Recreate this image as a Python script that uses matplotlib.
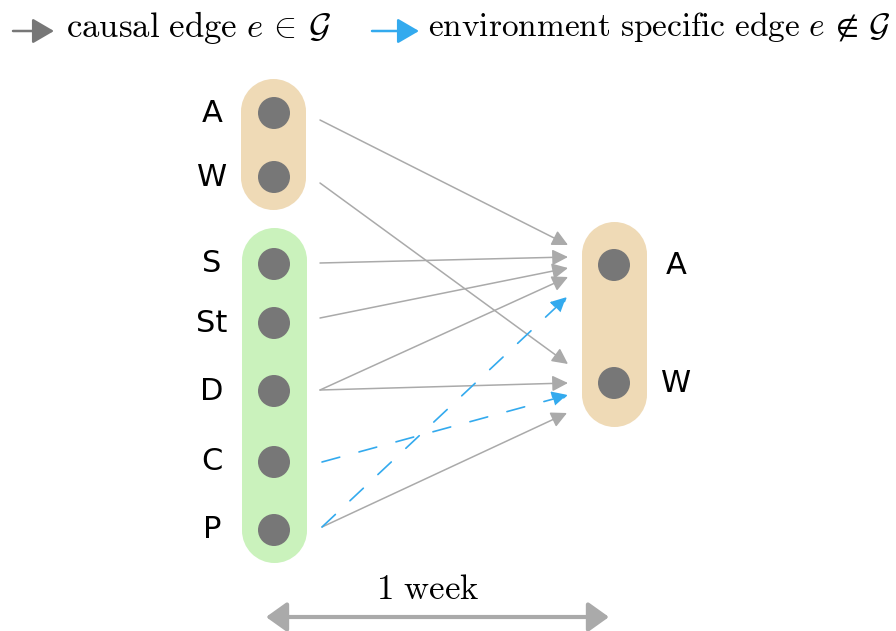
import matplotlib
matplotlib.use("Agg")
import matplotlib.pyplot as plt
from matplotlib.patches import Rectangle, FancyArrowPatch, Circle

plt.rcParams['mathtext.fontset'] = 'cm'

# ---- data ----
lag_group = ["A", "W"]
env_group = ["S", "St", "D", "C", "P"]
target_group = ["A", "W"]
causal_edges = [("A", "A"), ("W", "W"), ("S", "A"), ("St", "A"), ("D", "A"), ("D", "W"), ("P", "W")]
env_edges = [("C", "W"), ("P", "A")]
legend_labels = [r"$\mathrm{causal\ edge}\ e\, \in\, \mathcal{G}$",
                 r"$\mathrm{environment\ specific\ edge}\ e\, \notin\, \mathcal{G}$"]
window_label = r"$\mathrm{1\ week}$"

# ---- layout (pixel coordinates) ----
left_x, right_x = 274, 614
left_y = {"A": 113, "W": 177, "S": 264, "St": 323, "D": 391, "C": 462, "P": 530}
right_y = {"A": 265, "W": 383}
src_pt = {"A": (320, 120), "W": (320, 183), "S": (320, 263), "St": (320, 318),
          "D": (320, 390), "C": (322, 462), "P": (322, 527)}
tgt_pt = {("A", "A"): (568, 245), ("W", "W"): (568, 364), ("S", "A"): (568, 257),
          ("St", "A"): (568, 268), ("D", "A"): (568, 277), ("D", "W"): (568, 383),
          ("P", "W"): (567, 413), ("C", "W"): (568, 395), ("P", "A"): (567, 297)}

ORANGE = "#efdab6"
GREEN = "#caf2bc"
NODE = "#777777"
GRAY = "#aaaaaa"
BLUE = "#33aaee"

fig = plt.figure(figsize=(8.96, 6.31), dpi=100)
ax = fig.add_axes([0, 0, 1, 1])
ax.set_xlim(0, 896)
ax.set_ylim(631, 0)
ax.set_aspect('equal')
ax.axis('off')

def capsule(x0, y0, x1, y1, color):
    w = x1 - x0
    r = w / 2
    cx = x0 + r
    ax.add_patch(Rectangle((x0, y0 + r), w, (y1 - y0) - 2 * r, fc=color, ec='none', zorder=1))
    ax.add_patch(Circle((cx, y0 + r), r, fc=color, ec='none', zorder=1))
    ax.add_patch(Circle((cx, y1 - r), r, fc=color, ec='none', zorder=1))

capsule(241, 79, 306, 210, ORANGE)
capsule(242, 228, 307, 563, GREEN)
capsule(582, 222, 647, 427, ORANGE)

lab_kw = dict(fontsize=22, family="DejaVu Sans", ha='center', va='center', color='black')
for n in lag_group + env_group:
    ax.add_patch(Circle((left_x, left_y[n]), 16, fc=NODE, ec='none', zorder=2))
    ax.text(212, left_y[n], n, **lab_kw)
for n in target_group:
    ax.add_patch(Circle((right_x, right_y[n]), 16, fc=NODE, ec='none', zorder=2))
    ax.text(676, right_y[n], n, **lab_kw)

for s, t in causal_edges:
    a = FancyArrowPatch(src_pt[s], tgt_pt[(s, t)],
                        arrowstyle="-|>,head_length=0.6,head_width=0.3",
                        mutation_scale=16, color=GRAY, lw=1.1,
                        shrinkA=0, shrinkB=0, zorder=3)
    ax.add_patch(a)
for s, t in env_edges:
    a = FancyArrowPatch(src_pt[s], tgt_pt[(s, t)],
                        arrowstyle="-|>,head_length=0.6,head_width=0.3",
                        mutation_scale=16, color=BLUE, lw=1.2, linestyle=(0, (11, 12)),
                        shrinkA=0, shrinkB=0, zorder=3)
    ax.add_patch(a)

# legend
ax.add_patch(FancyArrowPatch((13, 31), (54, 31), arrowstyle="-|>,head_length=0.6,head_width=0.35",
                             mutation_scale=22, color="#777777", lw=1.8, shrinkA=0, shrinkB=0))
ax.text(66, 27, legend_labels[0], fontsize=25, ha='left', va='center')
ax.add_patch(FancyArrowPatch((372, 31), (419, 31), arrowstyle="-|>,head_length=0.6,head_width=0.35",
                             mutation_scale=22, color=BLUE, lw=1.8, shrinkA=0, shrinkB=0))
ax.text(428, 27, legend_labels[1], fontsize=24, ha='left', va='center')

# time window
ax.add_patch(FancyArrowPatch((266, 617), (609, 617), arrowstyle="<|-|>,head_length=0.7,head_width=0.5",
                             mutation_scale=18, color=GRAY, lw=3, shrinkA=0, shrinkB=0))
ax.text(428, 589, window_label, fontsize=25, ha='center', va='center')

fig.savefig("out.png", dpi=100)
